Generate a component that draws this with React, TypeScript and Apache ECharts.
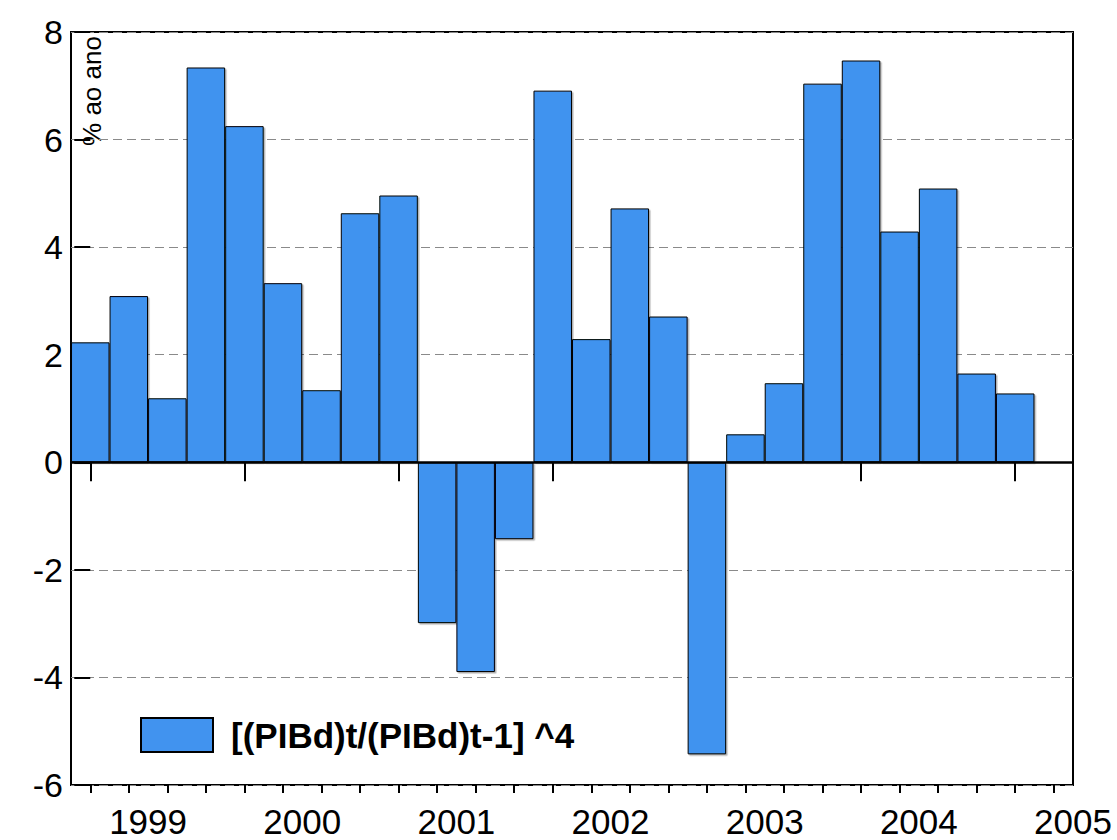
import React, { useEffect, useRef } from 'react';
import * as echarts from 'echarts';

// Quarterly data, 1999Q1 .. 2005Q1
const quarters = [
  '1999Q1', '1999Q2', '1999Q3', '1999Q4',
  '2000Q1', '2000Q2', '2000Q3', '2000Q4',
  '2001Q1', '2001Q2', '2001Q3', '2001Q4',
  '2002Q1', '2002Q2', '2002Q3', '2002Q4',
  '2003Q1', '2003Q2', '2003Q3', '2003Q4',
  '2004Q1', '2004Q2', '2004Q3', '2004Q4',
  '2005Q1',
];
const growth = [
  2.23, 3.09, 1.19, 7.34,
  6.25, 3.33, 1.34, 4.63,
  4.96, -2.99, -3.9, -1.43,
  6.91, 2.29, 4.72, 2.71,
  -5.43, 0.52, 1.47, 7.04,
  7.47, 4.29, 5.09, 1.65,
  1.28,
];
const firstYear = 1999;
const yearLabels = ['1999', '2000', '2001', '2002', '2003', '2004', '2005'];
const seriesName = '[(PIBd)t/(PIBd)t-1] ^4';
const unitLabel = '% ao ano';
const yMin = -6;
const yMax = 8;
const yStep = 2;

const FONT = 'Arial, "Liberation Sans", Helvetica, sans-serif';

export default function App() {
  const ref = useRef<HTMLDivElement>(null);

  useEffect(() => {
    if (!ref.current) return;
    const chart = echarts.init(ref.current, undefined, { renderer: 'svg' });

    const data = growth.map((v, i) => [i, v]);
    const xMin = -0.5;
    const xMax = quarters.length + 0.5;
    const majorTicks = yearLabels.map((_, i) => i * 4);
    const minorTicks: number[] = [];
    for (let i = 0; i <= quarters.length; i++) minorTicks.push(i);
    const labelPos = yearLabels.map((_, i) => i * 4 + 1.5);

    chart.setOption({
      animation: false,
      backgroundColor: '#ffffff',
      grid: {
        left: 71,
        right: 44,
        top: 32,
        bottom: 55,
        show: true,
        borderColor: '#000',
        borderWidth: 2,
        backgroundColor: 'transparent',
        containLabel: false,
        outerBoundsMode: 'none',
      },
      legend: {
        data: [seriesName],
        left: 140,
        top: 717,
        padding: 0,
        itemWidth: 72,
        itemHeight: 34,
        icon: 'rect',
        textStyle: {
          fontSize: 35,
          fontWeight: 'bold',
          color: '#000',
          fontFamily: FONT,
          padding: [0, 0, 0, 13],
        },
      },
      xAxis: [
        {
          type: 'value',
          min: xMin,
          max: xMax,
          position: 'bottom',
          axisLine: { show: false },
          splitLine: { show: false },
          axisTick: {
            show: true,
            customValues: majorTicks,
            length: 19,
            lineStyle: { color: '#000', width: 2 },
          },
          axisLabel: {
            show: true,
            customValues: labelPos,
            formatter: (v: number) => String(firstYear + Math.floor(v / 4)),
            fontSize: 35,
            lineHeight: 30,
            color: '#000',
            fontFamily: FONT,
            margin: 21,
          },
        },
        {
          type: 'value',
          min: xMin,
          max: xMax,
          position: 'bottom',
          offset: 0,
          axisLine: { show: false },
          splitLine: { show: false },
          axisTick: {
            show: true,
            customValues: minorTicks,
            length: 8,
            lineStyle: { color: '#000', width: 2 },
          },
          axisLabel: { show: false },
        },
      ],
      yAxis: {
        type: 'value',
        min: yMin,
        max: yMax,
        interval: yStep,
        axisLine: { show: false },
        axisTick: {
          show: true,
          length: 16,
          lineStyle: { color: '#000', width: 2 },
        },
        axisLabel: {
          fontSize: 34,
          color: '#000',
          fontFamily: FONT,
          margin: 8,
        },
        splitLine: {
          show: true,
          lineStyle: { color: '#8a8a8a', width: 1, type: [9, 5] },
        },
      },
      series: [
        {
          name: seriesName,
          type: 'bar',
          xAxisIndex: 0,
          data,
          barWidth: 38.5,
          itemStyle: {
            color: '#4193ef',
            borderColor: '#000',
            borderWidth: 1,
            shadowColor: 'rgba(0,0,0,0.3)',
            shadowOffsetX: 1.5,
            shadowOffsetY: 1.5,
            shadowBlur: 1,
          },
          markLine: {
            silent: true,
            symbol: 'none',
            label: { show: false },
            lineStyle: { color: '#000', width: 2.5, type: 'solid' },
            data: [{ yAxis: 0 }],
          },
        },
      ],
      graphic: [
        {
          type: 'text',
          x: 92,
          y: 91,
          rotation: Math.PI / 2,
          style: {
            text: unitLabel,
            fontSize: 26,
            fontFamily: FONT,
            fill: '#000',
            align: 'center',
            verticalAlign: 'middle',
          },
        },
      ],
    });

    return () => chart.dispose();
  }, []);

  return (
    <div
      ref={ref}
      style={{ position: 'fixed', left: 0, top: 0, width: 1117, height: 840 }}
    />
  );
}
